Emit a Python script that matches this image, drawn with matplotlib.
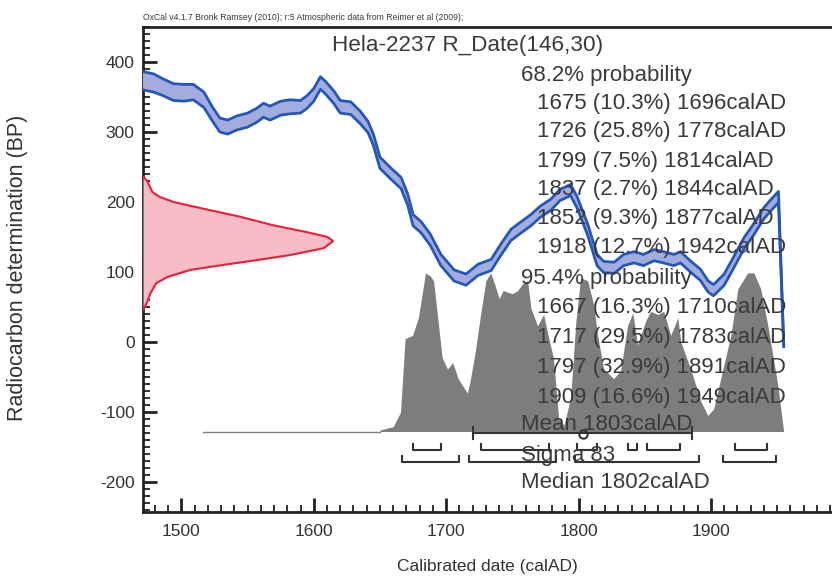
import numpy as np
import matplotlib
matplotlib.use('Agg')
import matplotlib.pyplot as plt
from matplotlib.ticker import MultipleLocator

plt.rcParams['font.family'] = ['Liberation Sans', 'DejaVu Sans']
plt.rcParams['axes.unicode_minus'] = False

# calibration curve (calAD, BP centre, half width)
cal_year = [1469, 1479, 1486, 1494, 1502, 1509, 1517, 1523, 1529, 1535, 1542, 1550,
            1557, 1562, 1567, 1575, 1582, 1590, 1595, 1600, 1605, 1609, 1615, 1620,
            1628, 1635, 1641, 1645, 1650, 1658, 1666, 1671, 1675, 1681, 1688, 1696,
            1706, 1715, 1724, 1734, 1741, 1749, 1756, 1764, 1771, 1779, 1786, 1794,
            1799, 1807, 1814, 1819, 1827, 1834, 1842, 1849, 1857, 1864, 1872, 1877,
            1885, 1892, 1898, 1902, 1910, 1917, 1925, 1932, 1940, 1947, 1951, 1955]
cal_bp = [374, 370, 364, 357, 356, 357, 346, 327, 310, 307, 313, 317,
          324, 331, 327, 334, 336, 336, 343, 353, 370, 363, 350, 336,
          334, 321, 307, 289, 256, 241, 227, 203, 174, 164, 146, 117,
          95, 89, 103, 110, 131, 153, 163, 174, 186, 196, 210, 217,
          199, 160, 117, 107, 106, 117, 121, 117, 124, 121, 117, 121,
          107, 96, 79, 74, 89, 113, 141, 160, 184, 199, 207, -5]
cal_err = [13, 13, 12, 12, 12, 11, 11, 10, 10, 10, 10, 10,
           10, 10, 10, 10, 10, 9, 9, 9, 9, 9, 9, 9,
           9, 9, 8, 8, 8, 8, 8, 8, 8, 8, 8, 8,
           8, 8, 8, 8, 8, 8, 8, 8, 8, 8, 8, 8,
           8, 8, 8, 8, 8, 8, 8, 8, 8, 8, 8, 8,
           8, 8, 8, 8, 8, 8, 8, 8, 8, 8, 8, 2]

# radiocarbon date R_Date(146,30), relative density
rd_bp = [236, 231, 214, 207, 200, 189, 179, 167, 157, 150, 144, 134, 124,
         117, 110, 103, 93, 84, 70, 56, 46]
rd_dens = [0.0, 0.02, 0.05, 0.09, 0.16, 0.34, 0.51, 0.68, 0.86, 0.97, 1.0, 0.95,
           0.77, 0.60, 0.42, 0.25, 0.13, 0.07, 0.04, 0.02, 0.0]

# calibrated posterior, relative density
post_year = [1650, 1660, 1665.5, 1669, 1674.6, 1679, 1684.4, 1688, 1690.5, 1697, 1701,
             1705, 1709, 1716, 1718, 1722, 1726, 1730, 1733.6, 1737, 1740, 1743,
             1750, 1754, 1758.5, 1761.5, 1764, 1769, 1773.6, 1777, 1781, 1785, 1789,
             1794, 1798, 1801.6, 1807, 1811.4, 1814.4, 1819, 1826.5, 1831.8, 1837,
             1841, 1844.6, 1850.7, 1854.5, 1859.8, 1864.3, 1869.6, 1875, 1877.2,
             1884.7, 1892.3, 1897.6, 1902, 1907.4, 1915, 1920.3, 1927.8, 1932.4,
             1937.6, 1943, 1950.5, 1954.3, 1955]
post_dens = [0.01, 0.03, 0.12, 0.58, 0.60, 0.71, 0.99, 0.97, 0.94, 0.46, 0.39,
             0.43, 0.33, 0.24, 0.31, 0.50, 0.73, 0.94, 0.99, 0.91, 0.83, 0.88,
             0.86, 0.88, 0.93, 0.94, 0.77, 0.66, 0.73, 0.60, 0.46, 0.08, 0.04,
             0.21, 0.69, 0.96, 0.94, 0.79, 0.60, 0.39, 0.33, 0.38, 0.66,
             0.74, 0.54, 0.69, 0.75, 0.73, 0.75, 0.60, 0.71, 0.56,
             0.39, 0.19, 0.10, 0.14, 0.33, 0.60, 0.89, 0.99, 0.99,
             0.89, 0.66, 0.29, 0.04, 0.0]

ranges_68 = [(1675, 1696), (1726, 1778), (1799, 1814), (1837, 1844), (1852, 1877), (1918, 1942)]
ranges_95 = [(1667, 1710), (1717, 1783), (1797, 1891), (1909, 1949)]
mean_ad, sigma = 1803, 83

lines_68 = ['1675 (10.3%) 1696calAD', '1726 (25.8%) 1778calAD', '1799 (7.5%) 1814calAD',
            '1837 (2.7%) 1844calAD', '1852 (9.3%) 1877calAD', '1918 (12.7%) 1942calAD']
lines_95 = ['1667 (16.3%) 1710calAD', '1717 (29.5%) 1783calAD',
            '1797 (32.9%) 1891calAD', '1909 (16.6%) 1949calAD']

W, H = 832, 581
fig = plt.figure(figsize=(W / 100, H / 100), dpi=100)
ax = fig.add_axes([143 / W, (H - 512) / H, (842 - 143) / W, (512 - 27) / H])
x0, x1 = 1471, 1999
ax.set_xlim(x0, x1)
ax.set_ylim(-243, 450)

# posterior (grey)
base = -128
ax.plot([1516, 1650], [base, base], color='#808080', lw=1)
py = np.array(post_dens) * 229 + base
ax.fill_between(post_year, base, py, color='#7d7d7d', lw=0, zorder=2)

# calibration curve
cy = np.array(cal_year)
cb = np.array(cal_bp)
ce = np.array(cal_err)
ax.fill_between(cy, cb - ce, cb + ce, color='#a3acdf', lw=0, zorder=3)
ax.plot(cy, cb + ce, color='#2458b8', lw=2, zorder=4)
ax.plot(cy, cb - ce, color='#2458b8', lw=2, zorder=4)

# radiocarbon date (red)
rx = x0 + np.array(rd_dens) * 143.6
ax.fill_betweenx(rd_bp, x0, rx, color='#f7bcc5', lw=0, zorder=3)
ax.plot(rx, rd_bp, color='#e8203a', lw=1.5, zorder=4)

# range brackets
bc = '#333333'
for a, b in ranges_68:
    ax.plot([a, a, b, b], [-146, -154, -154, -146], color=bc, lw=1.5, zorder=5)
for a, b in ranges_95:
    ax.plot([a, a, b, b], [-163, -171, -171, -163], color=bc, lw=1.5, zorder=5)
ax.plot([mean_ad - sigma, mean_ad + sigma], [-130, -130], color=bc, lw=1.5, zorder=5)
for xx in (mean_ad - sigma, mean_ad + sigma):
    ax.plot([xx, xx], [-122, -138], color=bc, lw=1.5, zorder=5)
ax.plot([mean_ad], [-132], marker='o', ms=6, mfc='none', mec=bc, mew=1.5, zorder=5)

# axes styling
for s in ax.spines.values():
    s.set_linewidth(2)
    s.set_color('#222222')
ax.xaxis.set_major_locator(MultipleLocator(100))
ax.xaxis.set_minor_locator(MultipleLocator(10))
ax.yaxis.set_major_locator(MultipleLocator(100))
ax.yaxis.set_minor_locator(MultipleLocator(10))
ax.tick_params(which='both', direction='in', top=False, right=False, color='#222222')
ax.tick_params(which='major', length=10, width=2, labelsize=12.5, labelcolor='#333333')
ax.tick_params(axis='x', which='major', pad=9)
ax.tick_params(axis='y', which='major', pad=6)
ax.tick_params(which='minor', length=5, width=1.3)

# texts
tc = '#3a3a3a'
fig.text(487 / W, 1 - 567 / H, 'Calibrated date (calAD)', fontsize=12.5, color='#333333',
         ha='center', va='center')
fig.text(18 / W, 1 - 268 / H, 'Radiocarbon determination (BP)', fontsize=15.5,
         color='#333333', ha='center', va='center', rotation=90)
fig.text(143 / W, 1 - 17 / H,
         'OxCal v4.1.7 Bronk Ramsey (2010); r:5 Atmospheric data from Reimer et al (2009);',
         fontsize=6.2, color=tc, va='center', ha='left')
fig.text(468 / W, 1 - 45 / H, 'Hela-2237 R_Date(146,30)', fontsize=16.2, color=tc,
         ha='center', va='center')


def put(x, y, s):
    fig.text(x / W, 1 - y / H, s, fontsize=16, color=tc, ha='left', va='center', zorder=10)


put(521, 75, '68.2% probability')
for i, s in enumerate(lines_68):
    put(537, 103 + i * 29, s)
put(521, 278, '95.4% probability')
for i, s in enumerate(lines_95):
    put(537, 308 + i * 30, s)
put(521, 425, 'Mean 1803calAD')
put(521, 455, 'Sigma 83')
put(521, 482, 'Median 1802calAD')

fig.savefig('out.png', dpi=100)
